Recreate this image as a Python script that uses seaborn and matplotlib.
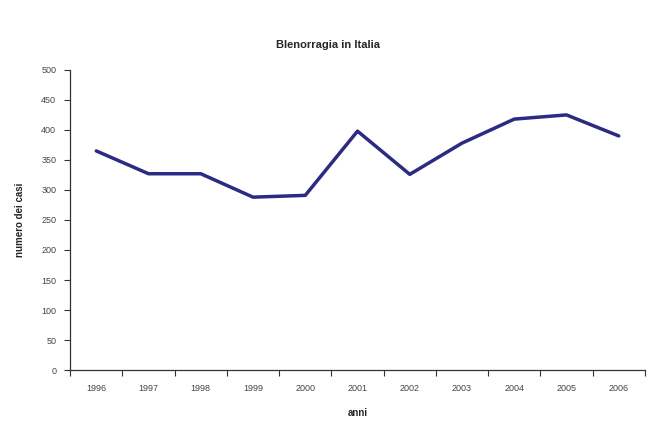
import matplotlib
matplotlib.use("Agg")
import matplotlib.pyplot as plt
import seaborn as sns
import pandas as pd
import numpy as np
from matplotlib.ticker import FixedLocator

anni = ["1996", "1997", "1998", "1999", "2000", "2001", "2002", "2003", "2004", "2005", "2006"]
casi = [365, 327, 327, 288, 291, 398, 326, 378, 418, 425, 390]
y_ticks = [0, 50, 100, 150, 200, 250, 300, 350, 400, 450, 500]

sns.set_theme(style="white")
plt.rcParams['font.family'] = ['Liberation Sans', 'DejaVu Sans']

df = pd.DataFrame({"anni": anni, "casi": casi})

fig = plt.figure(figsize=(6.56, 4.21), dpi=100)
ax = fig.add_axes([0.107, 0.121, 0.876, 0.713])
sns.lineplot(data=df, x="anni", y="casi", ax=ax, color="#2b2b85", linewidth=2.5, sort=False)

ax.set_xlim(-0.5, len(anni) - 0.5)
ax.set_ylim(0, 500)
ax.set_yticks(y_ticks)
ax.set_yticklabels([str(v) for v in y_ticks], fontsize=6.5, color="#444444")
ax.set_xticks(range(len(anni)))
ax.set_xticklabels(anni, fontsize=6.5, color="#444444")
ax.xaxis.set_minor_locator(FixedLocator(np.arange(-0.5, len(anni), 1.0)))
ax.tick_params(axis="x", which="major", length=0, pad=10)
ax.tick_params(axis="x", which="minor", length=4, width=0.8, color="#333333", direction="out", bottom=True)
ax.tick_params(axis="y", which="major", length=4, width=0.8, color="#333333", direction="out", left=True, pad=6)

for s in ["top", "right"]:
    ax.spines[s].set_visible(False)
for s in ["left", "bottom"]:
    ax.spines[s].set_color("#333333")
    ax.spines[s].set_linewidth(0.9)

ax.set_xlabel("anni", fontsize=7, fontweight="bold", labelpad=11)
ax.set_ylabel("numero dei casi", fontsize=7, fontweight="bold", labelpad=12)
fig.suptitle("Blenorragia in Italia", fontsize=8, fontweight="bold", y=0.905)
ax.set_title("")

fig.savefig("out.png", dpi=100, facecolor="white")
